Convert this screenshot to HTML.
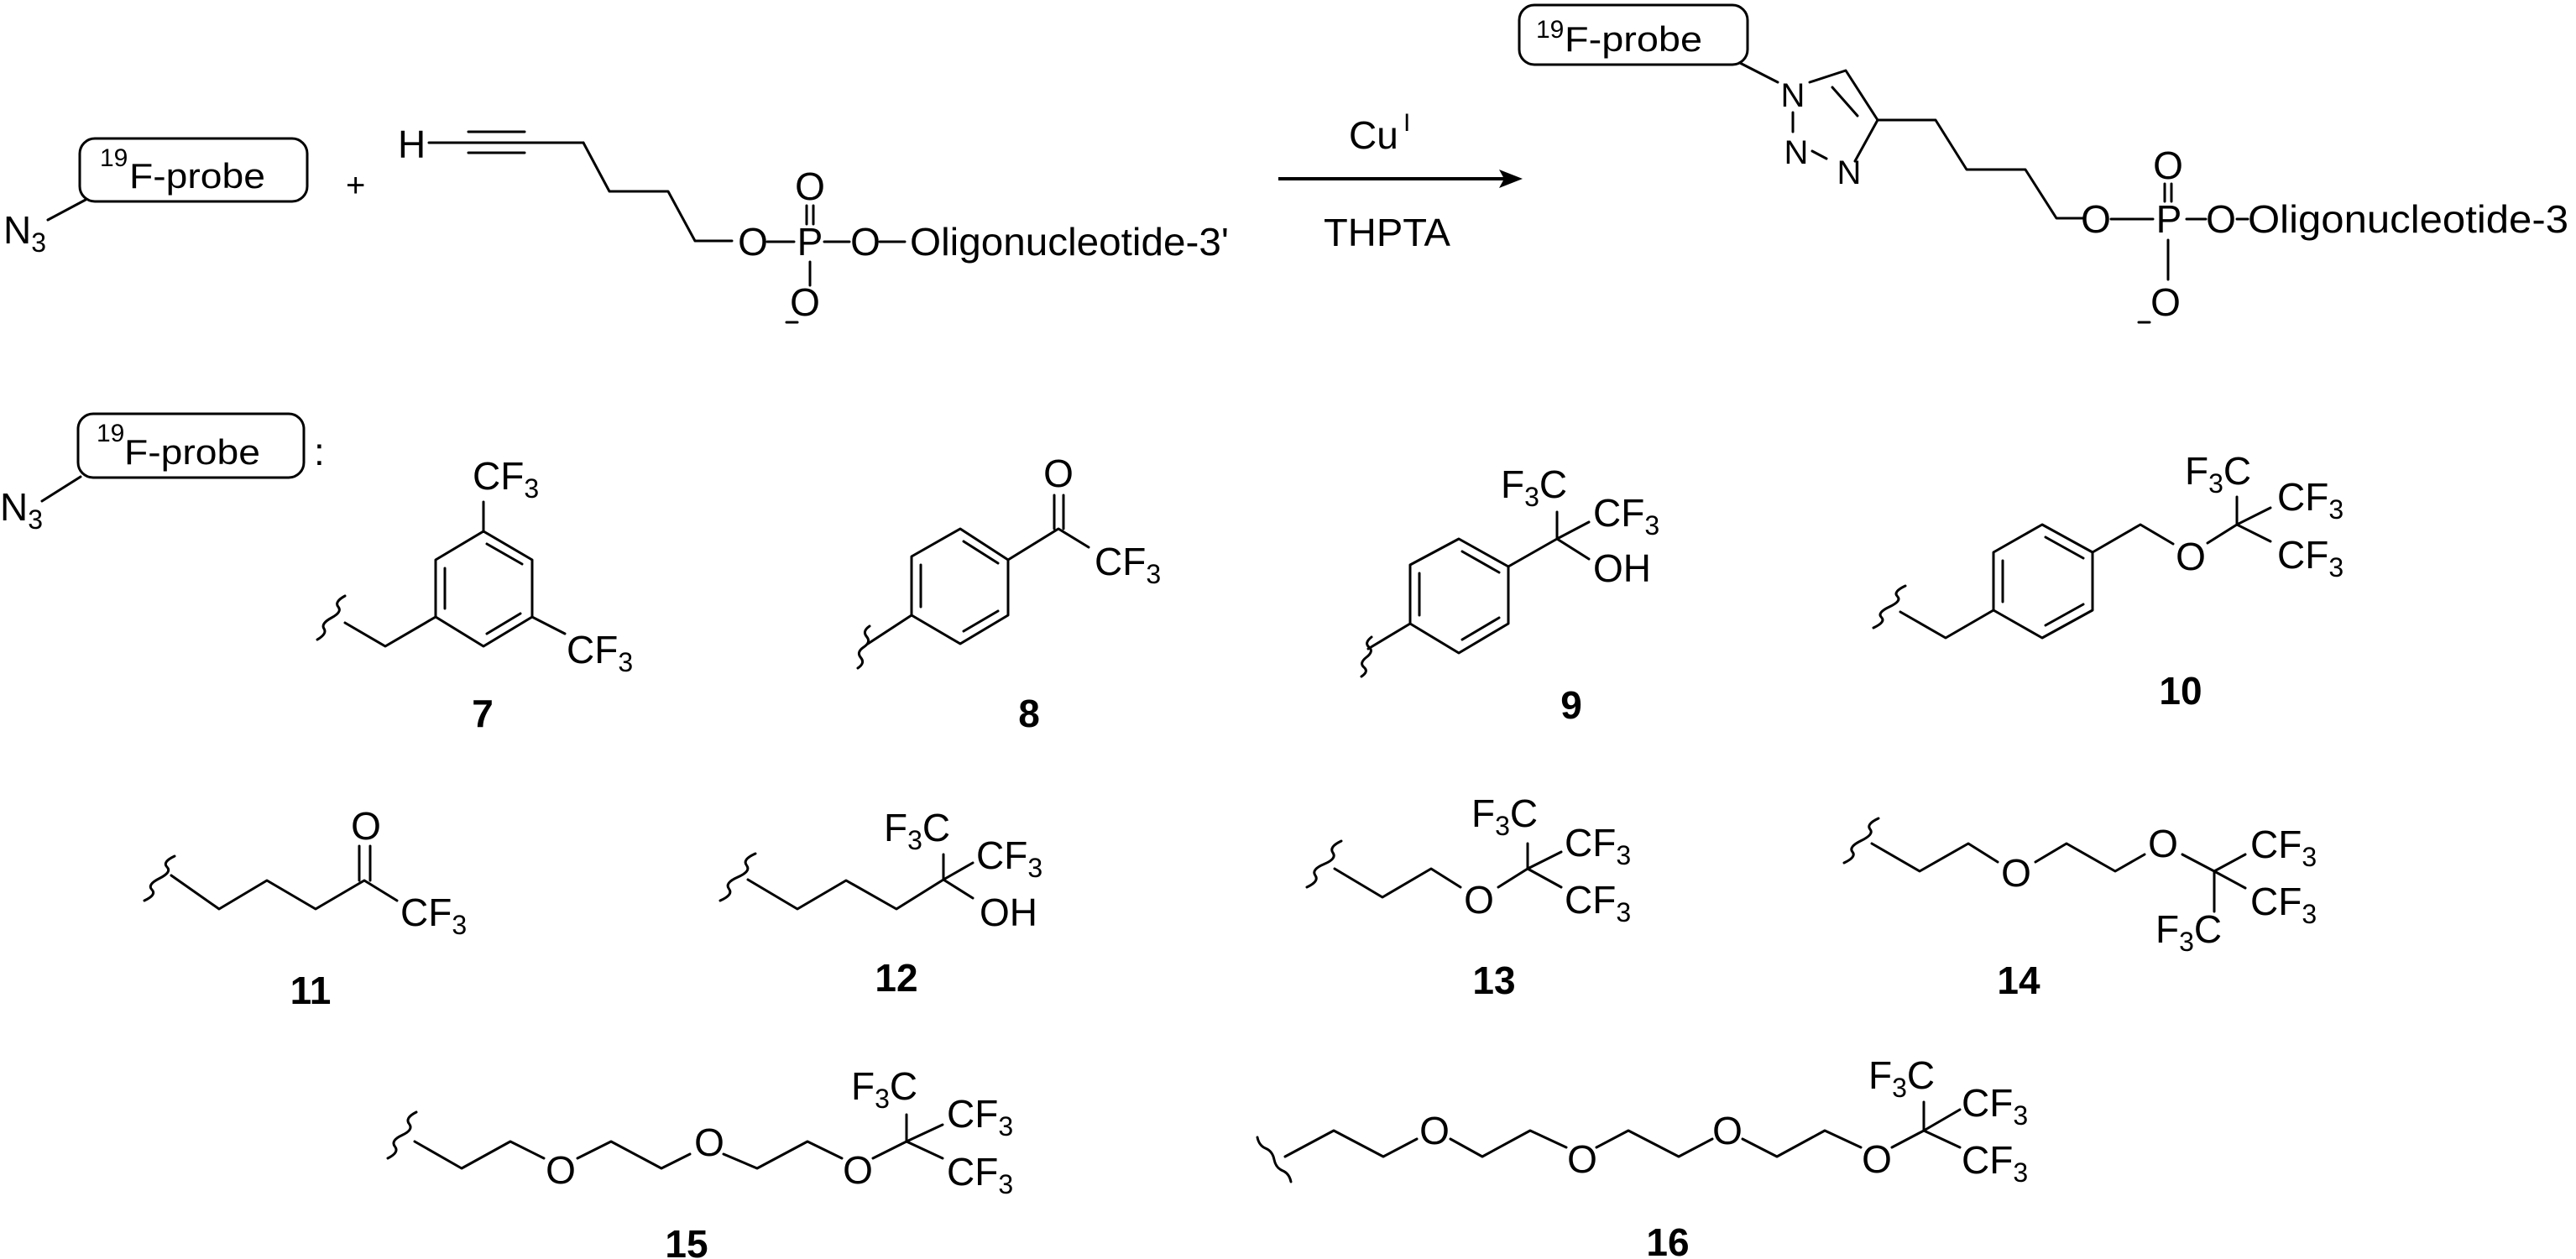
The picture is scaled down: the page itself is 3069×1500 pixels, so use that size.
<!DOCTYPE html>
<html><head><meta charset="utf-8"><style>
html,body{margin:0;padding:0;background:#fff;}
svg{display:block;}
text{font-family:"Liberation Sans",Arial,sans-serif;fill:#000;}
.b{fill:none;stroke:#000;stroke-width:3;stroke-linecap:round;stroke-linejoin:round;}
.l{font-weight:bold;font-size:46px;text-anchor:middle;}
</style></head><body>
<svg width="3069" height="1500" viewBox="0 0 3069 1500" xmlns="http://www.w3.org/2000/svg">
<g font-size="46">
<rect x="95" y="165" width="271" height="75" rx="18" class="b"/>
<text x="119" y="198" font-size="30">19</text>
<text x="154" y="224" font-size="42" textLength="162" lengthAdjust="spacingAndGlyphs">F-probe</text>
<path class="b" d="M102,238 L57,262"/>
<text x="4" y="290">N<tspan font-size="32" dy="10">3</tspan></text>
<text x="412" y="234" font-size="40">+</text>

<text x="474" y="188">H</text>
<path class="b" d="M511,170 L695,170 M558,157 L625,157 M558,182 L625,182"/>
<path class="b" d="M695,170 L726,228 L796,228 L828,287 L872,287"/>
<text x="897" y="304" text-anchor="middle">O</text>
<path class="b" d="M914,288 L946,288 M982,288 L1012,288 M1048,288 L1078,288"/>
<text x="965" y="304" text-anchor="middle">P</text>
<text x="1031" y="304" text-anchor="middle">O</text>
<text x="1084" y="304" textLength="380" lengthAdjust="spacingAndGlyphs">Oligonucleotide-3'</text>
<text x="965" y="238" text-anchor="middle">O</text>
<path class="b" d="M961,245 L961,267 M969,245 L969,267"/>
<path class="b" d="M965,312 L965,340"/>
<text x="959" y="376" text-anchor="middle">O</text>
<path class="b" d="M937,384 L950,384"/>

<text x="1607" y="177">Cu</text>
<text x="1672" y="156" font-size="30">I</text>
<path d="M1523,213 L1795,213" stroke="#000" stroke-width="4"/>
<polygon points="1814,213 1786,202 1792,213 1786,224" fill="#000"/>
<text x="1577" y="293" textLength="151" lengthAdjust="spacingAndGlyphs">THPTA</text>

<rect x="1810" y="6" width="272" height="71" rx="18" class="b"/>
<text x="1830" y="45" font-size="30">19</text>
<text x="1864" y="61" font-size="42" textLength="164" lengthAdjust="spacingAndGlyphs">F-probe</text>
<path class="b" d="M2073,75 L2118,98"/>
<text x="2136" y="127" font-size="40" text-anchor="middle">N</text>
<path class="b" d="M2156,98 L2199,84 L2237,143 M2183,104 L2213,138 M2237,143 L2210,192"/>
<path class="b" d="M2136,134 L2136,157"/>
<text x="2140" y="195" font-size="40" text-anchor="middle">N</text>
<path class="b" d="M2159,180 L2176,189"/>
<text x="2203" y="219" font-size="40" text-anchor="middle">N</text>
<path class="b" d="M2237,143 L2306,143 L2343,202 L2413,202 L2450,260 L2482,260"/>
<text x="2497" y="277" text-anchor="middle">O</text>
<path class="b" d="M2515,261 L2565,261 M2605,261 L2628,261 M2665,261 L2678,261"/>
<text x="2584" y="277" text-anchor="middle">P</text>
<text x="2646" y="277" text-anchor="middle">O</text>
<text x="2678" y="277" textLength="382" lengthAdjust="spacingAndGlyphs">Oligonucleotide-3</text>
<text x="2583" y="213" text-anchor="middle">O</text>
<path class="b" d="M2579,219 L2579,240 M2587,219 L2587,240"/>
<path class="b" d="M2583,286 L2583,333"/>
<text x="2580" y="376" text-anchor="middle">O</text>
<path class="b" d="M2548,384 L2561,384"/>

<rect x="93" y="493" width="269" height="76" rx="18" class="b"/>
<text x="115" y="526" font-size="30">19</text>
<text x="148" y="553" font-size="42" textLength="162" lengthAdjust="spacingAndGlyphs">F-probe</text>
<text x="374" y="554">:</text>
<path class="b" d="M96,568 L50,597"/>
<text x="0" y="620">N<tspan font-size="32" dy="10">3</tspan></text>

<path class="b" d="M576,633 L634,667 L634,735 L576,770 L519,735 L519,667 Z"/>
<path class="b" d="M580,648 L622,672 M620,731 L580,755 M530,677 L530,725"/>
<path class="b" d="M576,633 L576,598 M634,735 L673,755 M519,735 L459,770 L411,742"/>
<path class="b" d="M378,762 Q390,755 386,749 T395,736 T403,723 T411,710"/>
<text x="563" y="583">CF<tspan font-size="32" dy="10">3</tspan></text>
<text x="675" y="790">CF<tspan font-size="32" dy="10">3</tspan></text>

<path class="b" d="M1144,630 L1201,667 L1201,733 L1144,767 L1086,733 L1086,663 Z"/>
<path class="b" d="M1148,645 L1189,671 M1189,728 L1148,752 M1097,673 L1097,723"/>
<path class="b" d="M1201,667 L1261,630 L1297,652 M1256,630 L1256,590 M1267,630 L1267,590 M1086,733 L1034,767"/>
<path class="b" d="M1022,796 Q1031,790 1025.5,783.5 T1029,771 T1032.5,758.5 T1036,746"/>
<text x="1261" y="580" text-anchor="middle">O</text>
<text x="1304" y="685">CF<tspan font-size="32" dy="10">3</tspan></text>

<path class="b" d="M1738,642 L1797,675 L1797,743 L1738,778 L1680,743 L1680,673 Z"/>
<path class="b" d="M1742,657 L1786,682 M1786,736 L1742,762 M1691,683 L1691,733"/>
<path class="b" d="M1797,675 L1855,642 L1855,610 M1855,642 L1893,622 M1855,642 L1893,666 M1680,743 L1630,773"/>
<path class="b" d="M1622,806 Q1631,800 1625,795 T1628,783 T1631,771 T1634,759"/>
<text x="1788" y="593">F<tspan font-size="32" dy="10">3</tspan><tspan dy="-10">C</tspan></text>
<text x="1898" y="627">CF<tspan font-size="32" dy="10">3</tspan></text>
<text x="1898" y="693">OH</text>

<path class="b" d="M2433,625 L2493,658 L2493,727 L2433,760 L2375,727 L2375,658 Z"/>
<path class="b" d="M2437,640 L2482,665 M2482,720 L2437,745 M2386,668 L2386,717"/>
<path class="b" d="M2375,727 L2318,760 L2264,729 M2493,658 L2550,625 L2589,648"/>
<path class="b" d="M2630,647 L2665,625 L2665,592 M2665,625 L2705,605 M2665,625 L2705,645"/>
<path class="b" d="M2232,748 Q2247,741 2241.5,735.5 T2251,723 T2260.5,710.5 T2270,698"/>
<text x="2610" y="679" text-anchor="middle">O</text>
<text x="2603" y="577">F<tspan font-size="32" dy="10">3</tspan><tspan dy="-10">C</tspan></text>
<text x="2713" y="608">CF<tspan font-size="32" dy="10">3</tspan></text>
<text x="2713" y="677">CF<tspan font-size="32" dy="10">3</tspan></text>

<path class="b" d="M204,1043 L261,1083 L318,1049 L376,1083 L434,1049 L473,1073 M428,1049 L428,1008 M441,1049 L441,1008"/>
<path class="b" d="M172,1073 Q187,1066 181,1060 T190,1046.5 T199,1033 T208,1020"/>
<text x="436" y="1000" text-anchor="middle">O</text>
<text x="477" y="1103">CF<tspan font-size="32" dy="10">3</tspan></text>

<path class="b" d="M891,1048 L950,1083 L1008,1049 L1068,1083 L1124,1048 L1124,1018 M1124,1048 L1159,1028 M1124,1048 L1159,1070"/>
<path class="b" d="M858,1073 Q874,1066 868.5,1059 T879,1045 T889.5,1031 T900,1017"/>
<text x="1053" y="1002">F<tspan font-size="32" dy="10">3</tspan><tspan dy="-10">C</tspan></text>
<text x="1163" y="1035">CF<tspan font-size="32" dy="10">3</tspan></text>
<text x="1167" y="1103">OH</text>

<path class="b" d="M1590,1035 L1647,1069 L1705,1035 L1740,1057 M1785,1057 L1820,1035 L1820,1005 M1820,1035 L1860,1015 M1820,1035 L1860,1057"/>
<path class="b" d="M1557,1057 Q1572,1050 1567,1043 T1577.5,1029.5 T1588,1016 T1598,1002"/>
<text x="1762" y="1088" text-anchor="middle">O</text>
<text x="1753" y="985">F<tspan font-size="32" dy="10">3</tspan><tspan dy="-10">C</tspan></text>
<text x="1864" y="1020">CF<tspan font-size="32" dy="10">3</tspan></text>
<text x="1864" y="1088">CF<tspan font-size="32" dy="10">3</tspan></text>

<path class="b" d="M2230,1005 L2287,1038 L2345,1005 L2380,1027 M2425,1027 L2462,1005 L2520,1038 L2555,1018 M2600,1018 L2638,1038 L2675,1018 M2638,1038 L2675,1058 M2638,1038 L2638,1086"/>
<path class="b" d="M2197,1028 Q2212,1021 2207,1015 T2217.5,1001.5 T2228,988 T2238,975"/>
<text x="2402" y="1056" text-anchor="middle">O</text>
<text x="2577" y="1021" text-anchor="middle">O</text>
<text x="2681" y="1022">CF<tspan font-size="32" dy="10">3</tspan></text>
<text x="2681" y="1090">CF<tspan font-size="32" dy="10">3</tspan></text>
<text x="2568" y="1123">F<tspan font-size="32" dy="10">3</tspan><tspan dy="-10">C</tspan></text>

<path class="b" d="M494,1360 L550,1392 L608,1360 L648,1380 M688,1380 L728,1360 L788,1392 L822,1375 M862,1375 L902,1392 L962,1360 L1003,1380 M1040,1380 L1080,1360 L1080,1328 M1080,1360 L1123,1340 M1080,1360 L1123,1380"/>
<path class="b" d="M462,1380 Q476,1373 470.5,1366 T479,1352.5 T487.5,1339 T496,1325"/>
<text x="668" y="1410" text-anchor="middle">O</text>
<text x="845" y="1377" text-anchor="middle">O</text>
<text x="1022" y="1410" text-anchor="middle">O</text>
<text x="1014" y="1310">F<tspan font-size="32" dy="10">3</tspan><tspan dy="-10">C</tspan></text>
<text x="1128" y="1343">CF<tspan font-size="32" dy="10">3</tspan></text>
<text x="1128" y="1412">CF<tspan font-size="32" dy="10">3</tspan></text>

<path class="b" d="M1531,1378 L1589,1347 L1648,1378 L1688,1357 M1728,1357 L1766,1378 L1823,1347 L1866,1367 M1902,1367 L1940,1347 L2000,1378 L2040,1357 M2076,1357 L2117,1378 L2174,1347 L2217,1367 M2254,1367 L2292,1347 L2292,1313 M2292,1347 L2335,1322 M2292,1347 L2335,1367"/>
<path class="b" d="M1538,1408 Q1536,1398 1528,1394.75 T1518,1381.5 T1508,1368.25 T1498,1355"/>
<text x="1709" y="1363" text-anchor="middle">O</text>
<text x="1885" y="1397" text-anchor="middle">O</text>
<text x="2058" y="1363" text-anchor="middle">O</text>
<text x="2236" y="1397" text-anchor="middle">O</text>
<text x="2226" y="1297">F<tspan font-size="32" dy="10">3</tspan><tspan dy="-10">C</tspan></text>
<text x="2337" y="1330">CF<tspan font-size="32" dy="10">3</tspan></text>
<text x="2337" y="1398">CF<tspan font-size="32" dy="10">3</tspan></text>
</g>

<text class="l" x="575" y="866">7</text>
<text class="l" x="1226" y="866">8</text>
<text class="l" x="1872" y="856">9</text>
<text class="l" x="2598" y="839">10</text>
<text class="l" x="370" y="1196">11</text>
<text class="l" x="1068" y="1181">12</text>
<text class="l" x="1780" y="1184">13</text>
<text class="l" x="2405" y="1184">14</text>
<text class="l" x="818" y="1498">15</text>
<text class="l" x="1987" y="1496">16</text>
</svg>
</body></html>
